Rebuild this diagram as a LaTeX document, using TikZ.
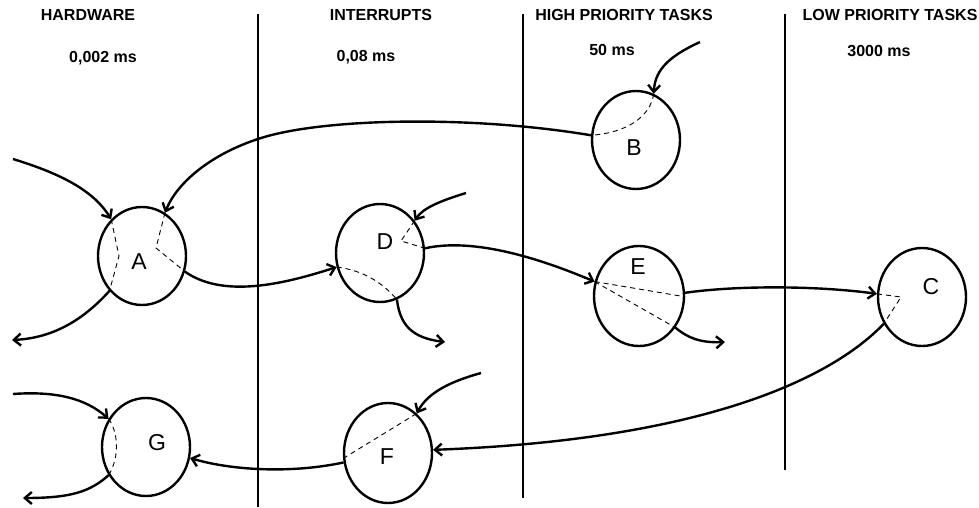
\documentclass[tikz,border=0pt]{standalone}
\usepackage{fontspec}
\setmainfont{Liberation Sans}
\usetikzlibrary{shapes.geometric,arrows.meta}
\begin{document}
\begin{tikzpicture}[x=1pt,y=-1pt,
  st/.style={ellipse,draw,line width=2.4pt,minimum width=88pt,minimum height=98pt,inner sep=0pt},
  lab/.style={font=\fontsize{23}{23}\selectfont,inner sep=0pt},
  head/.style={font=\bfseries\fontsize{16}{16}\selectfont,inner sep=0pt},
  conn/.style={line width=2.4pt,-{Straight Barb[length=7pt,width=12pt]}},
  ln/.style={line width=2.4pt},
  dsh/.style={line width=0.9pt,dash pattern=on 5pt off 4pt},
  sepline/.style={line width=2pt}]
\useasboundingbox (0,0) rectangle (979,508);

% column separators
\coordinate (s1t) at (258,14); \coordinate (s1b) at (258,507);
\coordinate (s2t) at (523,14); \coordinate (s2b) at (523,498);
\coordinate (s3t) at (785,14); \coordinate (s3b) at (785,470);
\draw[sepline] (s1t) -- (s1b);
\draw[sepline] (s2t) -- (s2b);
\draw[sepline] (s3t) -- (s3b);

% headers
\node[head] (h1) at (88,15) {HARDWARE};
\node[head] (h2) at (381,15) {INTERRUPTS};
\node[head] (h3) at (624,15) {HIGH PRIORITY TASKS};
\node[head] (h4) at (890,15) {LOW PRIORITY TASKS};
\node[head] (t1) at (103,58) {0,002 ms};
\node[head] (t2) at (366,57) {0,08 ms};
\node[head] (t3) at (612,50) {50 ms};
\node[head] (t4) at (879,51) {3000 ms};

% states
\node[st] (A) at (142,256) {};
\node[st] (B) at (636,140) {};
\node[st] (C) at (922,297) {};
\node[st] (D) at (380,253) {};
\node[st,minimum width=90pt,minimum height=100pt] (E) at (639,296) {};
\node[st,minimum height=100pt] (F) at (388,453) {};
\node[st] (G) at (146,447) {};

\node[lab] (Al) at (139,262) {A};
\node[lab] (Bl) at (634,148) {B};
\node[lab] (Cl) at (931,287) {C};
\node[lab] (Dl) at (385,242) {D};
\node[lab] (El) at (638,267) {E};
\node[lab] (Fl) at (387,457) {F};
\node[lab] (Gl) at (157,443) {G};

% free ends
\coordinate (inA) at (13,159);
\coordinate (outA) at (12,340);
\coordinate (inD) at (466,193);
\coordinate (outD) at (445,342);
\coordinate (outE) at (725,342);
\coordinate (inF) at (481,373);
\coordinate (inG) at (13,394);
\coordinate (outG) at (23,498);
\coordinate (inB) at (700,42);

% connectors
\draw[conn] (inA) .. controls (55,172) and (92,188) .. (A.130);
\draw[conn] (B.174) .. controls (470,115) and (320,118) .. (258,139)
            .. controls (215,153) and (178,180) .. (A.62);
\draw[conn] (A.227) .. controls (85,318) and (55,338) .. (outA);
\draw[conn] (A.-20) .. controls (225,300) and (290,282) .. (D.198);
\draw[conn] (inD) .. controls (440,201) and (423,208) .. (D.43);
\draw[conn] (D.-70) .. controls (400,325) and (412,338) .. (outD);
\draw[conn] (D.6) .. controls (480,236) and (555,265) .. (E.162);
\draw[conn] (E.-41) .. controls (688,338) and (700,343) .. (outE);
\draw[conn] (E.4) .. controls (740,285) and (820,286) .. (C.176);
\draw[conn] (C.215) .. controls (830,380) and (700,440) .. (F.4);
\draw[conn] (inF) .. controls (452,381) and (428,392) .. (F.54);
\draw[conn] (F.192) .. controls (290,474) and (230,470) .. (G.-14);
\draw[conn] (inG) .. controls (55,391) and (85,398) .. (G.143);
\draw[conn] (G.217) .. controls (90,492) and (70,498) .. (outG);
\draw[conn] (inB) .. controls (672,55) and (655,68) .. (B.69);

% dashed internal lines
\draw[dsh] (A.130) -- (119,256) -- (A.227);
\draw[dsh] (A.62) -- (156,248) -- (A.-20);
\draw[dsh] (D.43) -- (401,241) -- (D.6);
\draw[dsh] (D.198) .. controls (362,270) and (382,282) .. (D.-70);
\draw[dsh] (B.69) .. controls (650,118) and (625,133) .. (B.174);
\draw[dsh] (E.162) -- (E.-1);
\draw[dsh] (E.162) -- (E.-41);
\draw[dsh] (C.176) -- (901,297) -- (C.215);
\draw[dsh] (F.187) -- (F.54);
\draw[dsh] (G.143) .. controls (117,430) and (121,455) .. (G.217);
\end{tikzpicture}
\end{document}
